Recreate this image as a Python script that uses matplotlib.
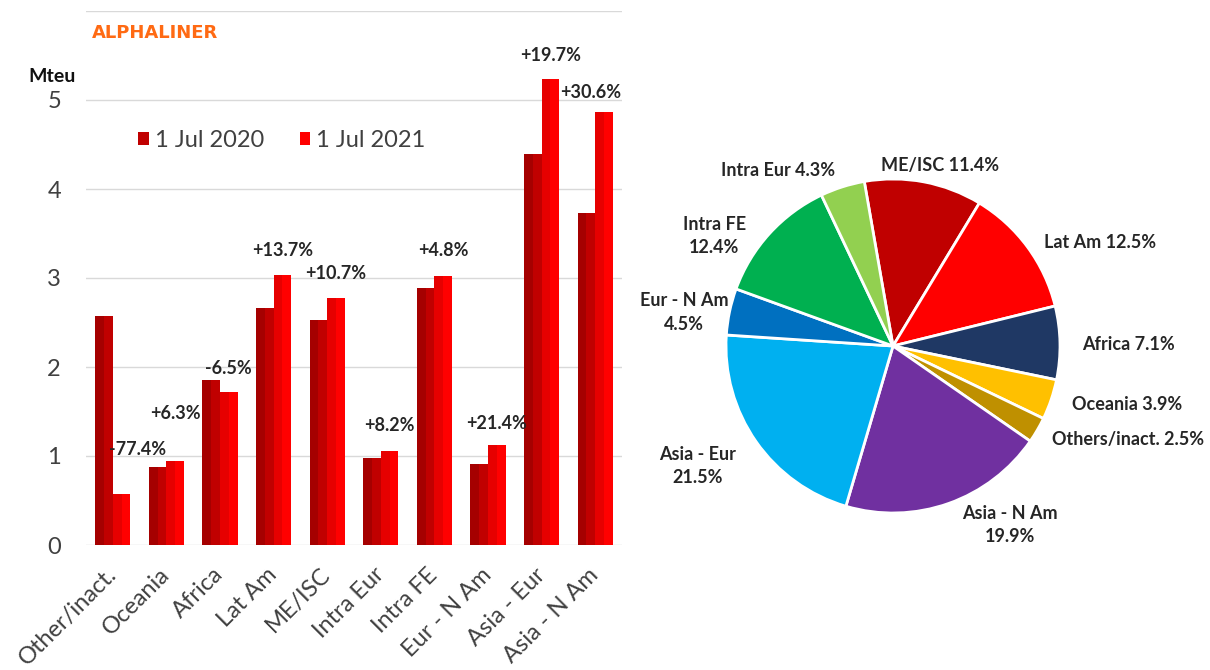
import matplotlib
matplotlib.use("Agg")
import matplotlib.pyplot as plt
import numpy as np

plt.rcParams['font.family'] = ['Lato', 'DejaVu Sans']

# ---------------- data ----------------
categories = ["Other/inact.", "Oceania", "Africa", "Lat Am", "ME/ISC",
              "Intra Eur", "Intra FE", "Eur - N Am", "Asia - Eur", "Asia - N Am"]
cap_2020 = [2.57, 0.88, 1.85, 2.66, 2.53, 0.98, 2.89, 0.91, 4.39, 3.73]
cap_2021 = [0.57, 0.94, 1.72, 3.03, 2.78, 1.06, 3.02, 1.12, 5.24, 4.87]
change_labels = ["-77.4%", "+6.3%", "-6.5%", "+13.7%", "+10.7%",
                 "+8.2%", "+4.8%", "+21.4%", "+19.7%", "+30.6%"]
series_names = ["1 Jul 2020", "1 Jul 2021"]
y_ticks = [0, 1, 2, 3, 4, 5, 6]
y_tick_labels = ["0", "1", "2", "3", "4", "5", ""]

pie_labels = ["ME/ISC", "Lat Am", "Africa", "Oceania", "Others/inact.",
              "Asia - N Am", "Asia - Eur", "Eur - N Am", "Intra FE", "Intra Eur"]
pie_shares = [11.4, 12.5, 7.1, 3.9, 2.5, 19.9, 21.5, 4.5, 12.4, 4.3]
pie_text = ["ME/ISC 11.4%", "Lat Am 12.5%", "Africa 7.1%", "Oceania 3.9%",
            "Others/inact. 2.5%", "Asia - N Am\n19.9%", "Asia - Eur\n21.5%",
            "Eur - N Am\n4.5%", "Intra FE\n12.4%", "Intra Eur 4.3%"]

# ---------------- layout / style ----------------
W, H = 1210, 670
dark_main, dark_shade = "#C00000", "#A50000"
light_main, light_shade = "#FF0000", "#E60000"
pie_colors = ["#C00000", "#FF0000", "#1F3864", "#FFC000", "#BF9000",
              "#7030A0", "#00B0F0", "#0070C0", "#00B050", "#92D050"]
text_col = "#404040"
# label placement (layout only)
label_y = [1.07, 1.48, 1.98, 3.31, 3.05, 1.34, 3.31, 1.37, 5.50, 5.08]
label_dx = [0.30, 0, 0, 0, 0, 0, 0, 0, 0, -0.25]
# pie label positions in pie-axes units (radius = 1)
pie_label_pos = [(0.28, 1.08), (1.24, 0.62), (1.41, 0.01), (1.40, -0.35),
                 (1.41, -0.56), (0.70, -1.07), (-1.17, -0.72), (-1.25, 0.20),
                 (-1.07, 0.66), (-0.69, 1.05)]

fig = plt.figure(figsize=(W / 100, H / 100), dpi=100)
ax = fig.add_axes([86 / W, 1 - 545 / H, 536 / W, 534 / H])

x = np.arange(len(categories))
bw = 0.33
b1 = ax.bar(x - bw / 2, cap_2020, width=bw, color=dark_main, zorder=2, label=series_names[0])
ax.bar(x - bw / 2 - bw / 4, cap_2020, width=bw / 2, color=dark_shade, zorder=2)
b2 = ax.bar(x + bw / 2, cap_2021, width=bw, color=light_main, zorder=2, label=series_names[1])
ax.bar(x + bw / 2 - bw / 4, cap_2021, width=bw / 2, color=light_shade, zorder=2)

for i, lab in enumerate(change_labels):
    ax.text(x[i] + bw / 2 + label_dx[i], label_y[i], lab, ha="center", va="center",
            fontsize=13, fontweight="bold", color="#262626", zorder=3)

ax.set_xlim(-0.5, len(categories) - 0.5)
ax.set_ylim(0, 6)
ax.set_yticks(y_ticks)
ax.set_yticklabels(y_tick_labels)
ax.set_xticks(x)
ax.set_xticklabels(categories, rotation=45, ha="right", va="center", rotation_mode="anchor")
ax.tick_params(axis="both", length=0, labelsize=17, colors=text_col)
ax.tick_params(axis="y", pad=18)
ax.tick_params(axis="x", pad=19)
ax.grid(axis="y", color="#D9D9D9", linewidth=1, zorder=0)
for s in ax.spines.values():
    s.set_visible(False)

leg = ax.legend(handles=[b1, b2], loc="center left", bbox_to_anchor=(0.058, 0.758),
                ncol=2, frameon=False, fontsize=17, handlelength=0.45, handleheight=0.45,
                handletextpad=0.25, columnspacing=1.5, labelcolor=text_col)

fig.text(92 / W, 1 - 33 / H, "ALPHALINER", color="#FF6A13", fontsize=13,
         fontweight="bold", ha="left", va="center", family=["DejaVu Sans"])
fig.text(52 / W, 1 - 77 / H, "Mteu", color="#111111", fontsize=14,
         fontweight="bold", ha="center", va="center", family=["Liberation Sans Narrow", "Lato"])

# ---------------- pie ----------------
cx, cy, R = 893, 346, 167
pax = fig.add_axes([(cx - R) / W, 1 - (cy + R) / H, 2 * R / W, 2 * R / H])
pax.pie(pie_shares, colors=pie_colors, startangle=99.9, counterclock=False,
        wedgeprops=dict(edgecolor="white", linewidth=2), radius=1)
pax.set_xlim(-1, 1)
pax.set_ylim(-1, 1)
pax.set_aspect("equal")
for (px, py), t in zip(pie_label_pos, pie_text):
    pax.text(px, py, t, ha="center", va="center", fontsize=13, fontweight="bold",
             color="#262626", linespacing=1.45, clip_on=False)
pax.axis("off")

fig.savefig("out.png", dpi=100)
